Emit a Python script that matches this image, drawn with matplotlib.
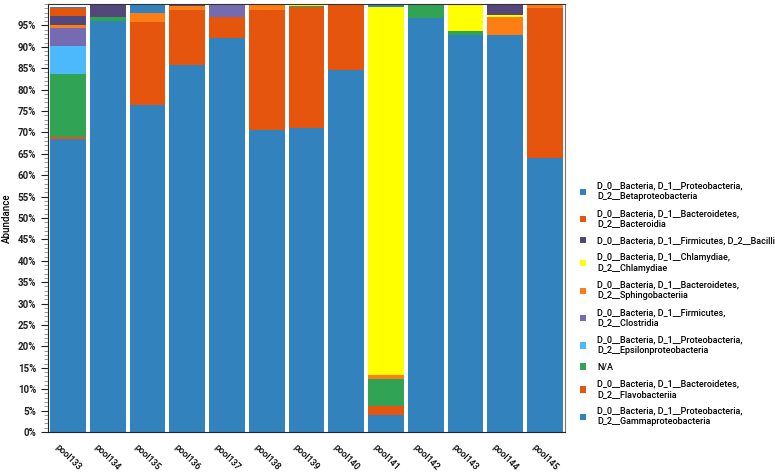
import matplotlib.pyplot as plt
import numpy as np
from matplotlib.ticker import MultipleLocator, PercentFormatter

plt.rcParams['font.family'] = ['Roboto', 'DejaVu Sans']

samples = ['pool133', 'pool134', 'pool135', 'pool136', 'pool137', 'pool138', 'pool139',
           'pool140', 'pool141', 'pool142', 'pool143', 'pool144', 'pool145']

# stacked from the bottom up (percent)
gamma = [68.5, 96.1, 76.5, 85.8, 92.0, 70.5, 71.1, 84.5, 4.0, 96.8, 92.7, 92.7, 64.0]
flavo = [0.4, 0.0, 19.2, 12.9, 5.0, 28.2, 28.2, 15.5, 2.1, 0.0, 0.0, 0.0, 35.1]
na = [14.8, 0.8, 0.0, 0.0, 0.0, 0.0, 0.2, 0.0, 6.4, 3.2, 0.9, 0.0, 0.0]
epsilon = [6.4, 0.0, 0.0, 0.0, 0.0, 0.0, 0.0, 0.0, 0.0, 0.0, 0.0, 0.0, 0.0]
clostridia = [4.4, 0.0, 0.0, 0.0, 2.7, 0.0, 0.0, 0.0, 0.0, 0.0, 0.0, 0.0, 0.0]
sphingo = [0.7, 0.0, 2.1, 0.9, 0.2, 1.2, 0.0, 0.0, 0.8, 0.0, 0.0, 4.2, 0.6]
chlamydiae = [0.0, 0.0, 0.0, 0.0, 0.1, 0.0, 0.6, 0.0, 86.0, 0.0, 6.4, 0.6, 0.3]
bacilli = [1.9, 3.0, 0.2, 0.3, 0.2, 0.0, 0.0, 0.0, 0.1, 0.0, 0.0, 2.5, 0.0]
bacteroidia = [1.9, 0.0, 0.0, 0.0, 0.0, 0.0, 0.0, 0.0, 0.0, 0.0, 0.0, 0.0, 0.0]
beta = [0.4, 0.1, 2.0, 0.0, 0.0, 0.0, 0.0, 0.0, 0.6, 0.0, 0.0, 0.0, 0.0]

series = [gamma, flavo, na, epsilon, clostridia, sphingo, chlamydiae, bacilli, bacteroidia, beta]
labels = [
    'D_0__Bacteria, D_1__Proteobacteria,\nD_2__Gammaproteobacteria',
    'D_0__Bacteria, D_1__Bacteroidetes,\nD_2__Flavobacteriia',
    'N/A',
    'D_0__Bacteria, D_1__Proteobacteria,\nD_2__Epsilonproteobacteria',
    'D_0__Bacteria, D_1__Firmicutes,\nD_2__Clostridia',
    'D_0__Bacteria, D_1__Bacteroidetes,\nD_2__Sphingobacteriia',
    'D_0__Bacteria, D_1__Chlamydiae,\nD_2__Chlamydiae',
    'D_0__Bacteria, D_1__Firmicutes, D_2__Bacilli',
    'D_0__Bacteria, D_1__Bacteroidetes,\nD_2__Bacteroidia',
    'D_0__Bacteria, D_1__Proteobacteria,\nD_2__Betaproteobacteria',
]
colors = ['#3182bd', '#e6550d', '#31a354', '#4bb9fb', '#756bb1',
          '#fd7e14', '#ffff00', '#54487a', '#e6550d', '#3182bd']

fig = plt.figure(figsize=(7.75, 4.74), dpi=100)
ax = fig.add_axes([48 / 775, 1 - 432 / 474, (565 - 48) / 775, (432 - 4) / 474])

x = np.arange(len(samples))
bottom = np.zeros(len(samples))
bars = []
for vals, col, lab in zip(series, colors, labels):
    b = ax.bar(x, vals, 0.9, bottom=bottom, color=col, label=lab, linewidth=0)
    bars.append(b)
    bottom += np.array(vals)

ax.set_xlim(-0.5, len(samples) - 0.5)
ax.set_ylim(0, 100)
ax.yaxis.set_minor_locator(MultipleLocator(1))
ax.yaxis.set_major_formatter(PercentFormatter(decimals=0))
ax.set_yticks(np.arange(0, 100, 5))
ax.tick_params(axis='y', labelsize=7, length=5, width=0.8, colors='#222222')
ax.tick_params(axis='y', which='minor', length=3, width=0.6, color='#888888')
for t in ax.get_yticklabels():
    t.set_fontweight('semibold')
ax.set_xticks(x)
ax.set_xticklabels(samples, rotation=-45, ha='center', va='top',
                   fontsize=6.5, fontweight='medium')
ax.tick_params(axis='x', length=0, pad=8)
ax.set_ylabel('Abundance', fontsize=7, fontweight='medium', labelpad=4)

for s in ['left', 'bottom']:
    ax.spines[s].set_color('#222222')
ax.spines['top'].set_color('#333333')
ax.spines['right'].set_color('#777777')

leg = ax.legend(bars[::-1], labels[::-1], loc='center left',
                bbox_to_anchor=(572 / 775, 1 - 304 / 474), bbox_transform=fig.transFigure,
                frameon=False, fontsize=6.5, handlelength=0.7, handleheight=0.7,
                handletextpad=1.2, labelspacing=0.88)
for t in leg.get_texts():
    t.set_fontweight('medium')

fig.savefig('out.png', dpi=100)
